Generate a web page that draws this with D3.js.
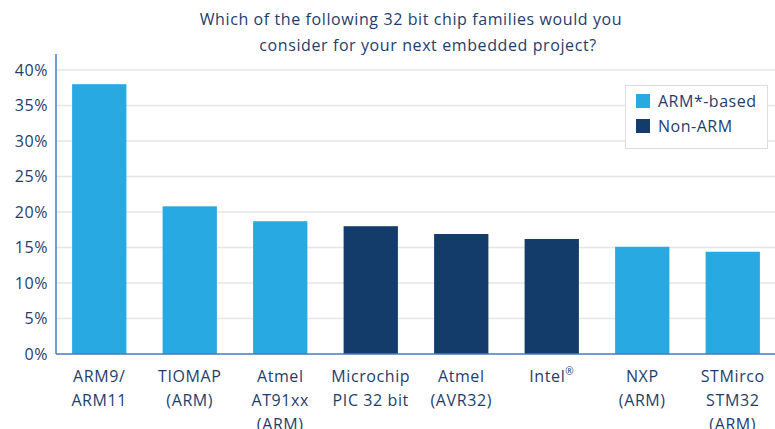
<!DOCTYPE html>
<html><head><meta charset="utf-8">
<script src="https://cdn.jsdelivr.net/npm/d3@7"></script>
<style>
html,body{margin:0;padding:0;background:#fff;}
svg{display:block;font-family:"Open Sans","Noto Sans",sans-serif;}
</style></head>
<body>
<svg id="chart" width="775" height="429"></svg>
<script>
const categories = [["ARM9/","ARM11"],["TIOMAP","(ARM)"],["Atmel","AT91xx","(ARM)"],["Microchip","PIC 32 bit"],["Atmel","(AVR32)"],["Intel®"],["NXP","(ARM)"],["STMirco","STM32","(ARM)"]];
const values = [38.0, 20.8, 18.7, 18.0, 16.9, 16.2, 15.1, 14.4];
const types = ["ARM","ARM","ARM","Non","Non","Non","ARM","ARM"];
const yTicks = [0,5,10,15,20,25,30,35,40];
const legendLabels = ["ARM*-based","Non-ARM"];
const titleLines = ["Which of the following 32 bit chip families would you","consider for your next embedded project?"];

(function(){
const colors = {ARM:"#29a9e1", Non:"#143c6b"};
const textColor = "#1f3d6c";
const svg = d3.select("#chart");
const mLeft = 56, mBottom = 354, mTop = 70;

const x = d3.scaleBand().domain(d3.range(values.length)).range([54, 778]).paddingInner(0.4).paddingOuter(0.2);
const y = d3.scaleLinear().domain([0,40]).range([mBottom, mTop]);

// gridlines
svg.append("g").selectAll("line").data(yTicks.filter(d=>d>0)).join("line")
  .attr("x1", mLeft).attr("x2", 775).attr("y1", d=>y(d)).attr("y2", d=>y(d))
  .attr("stroke", "#e6e6e6").attr("stroke-width", 1.5);

// bars
svg.append("g").selectAll("rect").data(values).join("rect")
  .attr("x", (d,i)=>x(i)).attr("width", x.bandwidth())
  .attr("y", d=>y(d)).attr("height", d=>mBottom - y(d))
  .attr("fill", (d,i)=>colors[types[i]]);

// y axis
const yAxis = svg.append("g").attr("transform", `translate(${mLeft},0)`)
  .call(d3.axisLeft(y).tickValues(yTicks).tickFormat(d=>d+"%").tickSize(0).tickPadding(8));
yAxis.select(".domain").remove();
yAxis.selectAll("text").attr("fill", textColor).style("font-size","16px").style("letter-spacing","0.6px").style("font-family","'Open Sans',sans-serif");

// axis lines
svg.append("line").attr("x1", mLeft).attr("x2", mLeft).attr("y1", 54).attr("y2", mBottom).attr("stroke", "#3f7bc4").attr("stroke-width", 1.5);
svg.append("line").attr("x1", mLeft).attr("x2", 775).attr("y1", mBottom).attr("y2", mBottom).attr("stroke", "#3f7bc4").attr("stroke-width", 1.5);

// x labels
const xl = svg.append("g").selectAll("text").data(categories).join("text")
  .attr("text-anchor","middle").attr("fill", textColor).style("font-size","16px").style("letter-spacing","0.6px")
  .attr("transform", (d,i)=>`translate(${x(i)+x.bandwidth()/2},382)`);
xl.each(function(lines){
  const t = d3.select(this);
  lines.forEach((ln,j)=>{
    const sp = t.append("tspan").attr("x",0).attr("y", j*24);
    if (ln.endsWith("®")) {
      sp.text(ln.slice(0,-1));
      t.append("tspan").attr("dy",-7).style("font-size","10px").text("®");
    } else sp.text(ln);
  });
});

// title
svg.append("text").attr("fill", textColor).style("font-size","16px").style("letter-spacing","0.6px").attr("text-anchor","middle")
  .selectAll("tspan").data(titleLines).join("tspan")
  .attr("x",(d,i)=> i===0 ? 411 : 428).attr("y",(d,i)=>25 + i*26).text(d=>d);

// legend
const lg = svg.append("g");
lg.append("rect").attr("x",625.5).attr("y",85.5).attr("width",142).attr("height",63).attr("fill","#fff").attr("stroke","#dcdcdc");
legendLabels.forEach((l,i)=>{
  lg.append("rect").attr("x",636).attr("y",94+i*25).attr("width",14).attr("height",14).attr("fill", i===0?colors.ARM:colors.Non);
  lg.append("text").attr("x",658).attr("y",107+i*25).attr("fill",textColor).style("font-size","16px").style("letter-spacing","0.5px").text(l);
});
})();
</script>
</body></html>
